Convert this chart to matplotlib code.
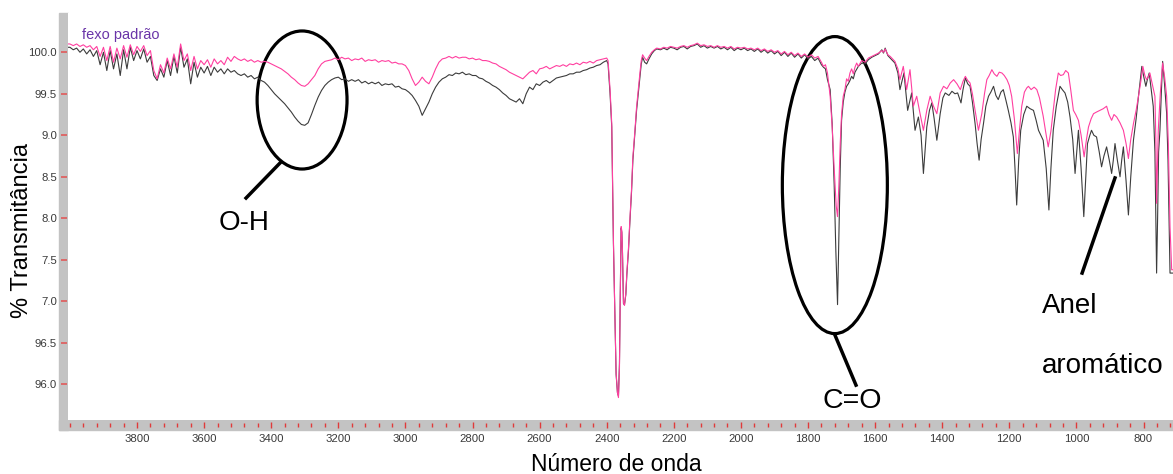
import numpy as np
import matplotlib
matplotlib.use("Agg")
import matplotlib.pyplot as plt
from matplotlib.patches import Ellipse, Rectangle

plt.rcParams['font.family'] = ['Liberation Sans', 'DejaVu Sans']

# espectro do padrao (rosa): (numero de onda, % transmitancia)
padrao = [
    (4005, 100.10), (4000, 100.10), (3990, 100.08), (3980, 100.10), (3970, 100.07), (3960, 100.09),
    (3950, 100.06), (3940, 100.08), (3930, 100.03), (3920, 100.07), (3910, 99.95), (3900, 100.06),
    (3890, 99.90), (3880, 100.07), (3870, 99.88), (3860, 100.05), (3850, 99.92), (3840, 100.08),
    (3830, 99.94), (3820, 100.09), (3810, 99.97), (3800, 100.07), (3790, 100.01), (3780, 100.08),
    (3770, 99.96), (3760, 100.02), (3750, 99.78), (3740, 99.68), (3730, 99.85), (3720, 99.75),
    (3710, 99.93), (3700, 99.80), (3690, 99.98), (3680, 99.82), (3670, 100.10), (3660, 99.90),
    (3650, 99.98), (3640, 99.78), (3630, 99.95), (3620, 99.80), (3610, 99.90), (3600, 99.85),
    (3590, 99.91), (3580, 99.82), (3570, 99.92), (3560, 99.86), (3550, 99.90), (3540, 99.85),
    (3530, 99.94), (3520, 99.89), (3510, 99.95), (3500, 99.92),
    (3490, 99.90), (3480, 99.92), (3470, 99.89), (3460, 99.91), (3450, 99.88), (3440, 99.90),
    (3430, 99.88), (3420, 99.89), (3410, 99.88), (3400, 99.86), (3390, 99.84), (3380, 99.82),
    (3370, 99.80), (3360, 99.77), (3350, 99.74), (3340, 99.70), (3330, 99.67), (3320, 99.63),
    (3310, 99.60), (3300, 99.59), (3290, 99.62), (3280, 99.67), (3270, 99.72), (3260, 99.80),
    (3250, 99.86), (3240, 99.89), (3230, 99.90), (3220, 99.91),
    (3210, 99.93), (3200, 99.91), (3190, 99.94), (3180, 99.92), (3170, 99.93), (3160, 99.90),
    (3150, 99.92), (3140, 99.91), (3130, 99.93), (3120, 99.89), (3110, 99.91), (3100, 99.90),
    (3090, 99.91), (3080, 99.88), (3070, 99.90), (3060, 99.89), (3050, 99.90), (3040, 99.87),
    (3030, 99.88), (3020, 99.86), (3010, 99.86), (3000, 99.84),
    (2990, 99.78), (2980, 99.68), (2970, 99.60), (2960, 99.64), (2950, 99.70), (2940, 99.65),
    (2930, 99.62), (2920, 99.70), (2910, 99.80),
    (2900, 99.88), (2890, 99.92), (2880, 99.93), (2870, 99.95), (2860, 99.93), (2850, 99.95),
    (2840, 99.93), (2830, 99.94), (2820, 99.94), (2810, 99.92), (2800, 99.93), (2790, 99.91),
    (2780, 99.92), (2770, 99.90), (2760, 99.90), (2750, 99.89), (2740, 99.87), (2730, 99.86),
    (2720, 99.83), (2710, 99.81), (2700, 99.79), (2690, 99.76), (2680, 99.74), (2670, 99.72),
    (2660, 99.70), (2650, 99.68), (2640, 99.72), (2630, 99.76), (2620, 99.78), (2610, 99.74),
    (2600, 99.80), (2590, 99.81), (2580, 99.83), (2570, 99.80), (2560, 99.82), (2550, 99.84),
    (2540, 99.83), (2530, 99.85), (2520, 99.83), (2510, 99.86), (2500, 99.85), (2490, 99.87),
    (2480, 99.85), (2470, 99.88), (2460, 99.87), (2450, 99.89), (2440, 99.87), (2430, 99.90),
    (2420, 99.91), (2410, 99.92),
    (2400, 99.93), (2396, 99.90), (2390, 99.55), (2385, 99.14), (2380, 97.74), (2376, 96.90),
    (2372, 96.14), (2368, 95.90), (2365, 95.84), (2362, 96.20), (2360, 96.93), (2357, 97.90),
    (2355, 97.85), (2353, 97.60), (2350, 96.98), (2347, 96.95), (2343, 97.10), (2340, 97.34),
    (2335, 97.65), (2331, 97.98), (2326, 98.35), (2322, 98.74), (2316, 99.05), (2311, 99.34),
    (2306, 99.55), (2301, 99.75), (2297, 99.90), (2293, 99.97), (2287, 99.93), (2281, 99.90),
    (2274, 99.95), (2266, 100.00), (2258, 100.03), (2251, 100.05),
    (2240, 100.04), (2230, 100.06), (2220, 100.05), (2210, 100.07), (2200, 100.06), (2190, 100.05),
    (2180, 100.07), (2170, 100.08), (2160, 100.06), (2150, 100.08), (2140, 100.09), (2130, 100.11),
    (2120, 100.08), (2110, 100.09), (2100, 100.07), (2090, 100.08), (2080, 100.06), (2070, 100.08),
    (2060, 100.06), (2050, 100.07), (2040, 100.05), (2030, 100.07), (2020, 100.04), (2010, 100.06),
    (2000, 100.05), (1990, 100.06), (1980, 100.04), (1970, 100.05), (1960, 100.03), (1950, 100.05),
    (1940, 100.02), (1930, 100.04), (1920, 100.01), (1910, 100.03), (1900, 100.00), (1890, 100.02),
    (1880, 99.98), (1870, 100.01), (1860, 99.97), (1850, 100.00), (1840, 99.96), (1830, 99.99),
    (1820, 99.95), (1810, 99.98), (1800, 99.94),
    (1790, 99.97), (1780, 99.93), (1770, 99.95), (1760, 99.88), (1754, 99.83), (1748, 99.85),
    (1742, 99.75), (1734, 99.47), (1728, 99.10), (1722, 98.60), (1716, 98.15), (1712, 98.02),
    (1708, 98.40), (1704, 98.90), (1700, 99.25), (1695, 99.47), (1690, 99.55), (1685, 99.68),
    (1680, 99.65), (1675, 99.75), (1670, 99.80), (1665, 99.74), (1660, 99.82), (1655, 99.87),
    (1650, 99.83), (1640, 99.90), (1630, 99.88), (1620, 99.93), (1610, 99.95), (1600, 99.97),
    (1590, 99.99), (1580, 100.02), (1575, 100.00), (1570, 100.04), (1562, 99.97), (1555, 99.95),
    (1541, 99.89), (1532, 99.80), (1526, 99.67), (1516, 99.83), (1506, 99.55), (1496, 99.79),
    (1486, 99.35), (1476, 99.47), (1466, 99.26), (1456, 99.06), (1446, 99.30), (1436, 99.47),
    (1426, 99.35), (1416, 99.26), (1406, 99.51), (1396, 99.59), (1386, 99.56), (1376, 99.63),
    (1366, 99.67), (1356, 99.62), (1346, 99.55), (1338, 99.65), (1331, 99.71), (1324, 99.66),
    (1317, 99.63), (1310, 99.50), (1302, 99.30), (1292, 99.06), (1282, 99.26), (1274, 99.50),
    (1267, 99.67), (1260, 99.72), (1252, 99.79), (1245, 99.74), (1237, 99.71), (1230, 99.76),
    (1222, 99.75), (1215, 99.72), (1207, 99.67), (1200, 99.60), (1193, 99.47), (1185, 99.20),
    (1176, 98.78), (1170, 99.05), (1163, 99.35), (1155, 99.52), (1148, 99.57), (1143, 99.59),
    (1135, 99.55), (1126, 99.58), (1118, 99.55), (1110, 99.45), (1099, 99.23), (1092, 99.05),
    (1084, 98.86), (1076, 99.05), (1069, 99.30), (1062, 99.55), (1054, 99.75), (1047, 99.72),
    (1039, 99.73), (1032, 99.78), (1024, 99.75), (1017, 99.55), (1009, 99.30), (1002, 99.25),
    (994, 99.18), (986, 99.00), (977, 98.74), (970, 98.95), (964, 99.10), (956, 99.20),
    (949, 99.26), (940, 99.28), (930, 99.30), (920, 99.32), (910, 99.35), (903, 99.25),
    (895, 99.18), (888, 99.25), (880, 99.22), (870, 99.15), (860, 99.06), (852, 98.90),
    (845, 98.72), (838, 98.95), (830, 99.14), (822, 99.30), (815, 99.47), (808, 99.65),
    (802, 99.83), (796, 99.72), (791, 99.67), (786, 99.70), (781, 99.75), (774, 99.62),
    (766, 99.47), (763, 98.90), (761, 98.18), (758, 98.70), (756, 99.06), (750, 99.50),
    (743, 99.87), (737, 99.70), (731, 99.47), (726, 98.90), (721, 97.90), (716, 97.38),
    (712, 97.38),
]

# espectro da amostra (cinza escuro)
amostra = [
    (4005, 100.06), (4000, 100.06), (3990, 100.03), (3980, 100.05), (3970, 100.00), (3960, 100.04),
    (3950, 99.98), (3940, 100.03), (3930, 99.95), (3920, 100.02), (3910, 99.85), (3900, 100.00),
    (3890, 99.78), (3880, 100.02), (3870, 99.80), (3860, 99.98), (3850, 99.72), (3840, 100.03),
    (3830, 99.80), (3820, 100.06), (3810, 99.90), (3800, 100.02), (3790, 99.92), (3780, 100.04),
    (3770, 99.88), (3760, 99.95), (3750, 99.72), (3740, 99.66), (3730, 99.80), (3720, 99.70),
    (3710, 99.90), (3700, 99.72), (3690, 99.95), (3680, 99.75), (3670, 100.06), (3660, 99.82),
    (3650, 99.92), (3640, 99.62), (3630, 99.88), (3620, 99.70), (3610, 99.82), (3600, 99.75),
    (3590, 99.83), (3580, 99.72), (3570, 99.82), (3560, 99.76), (3550, 99.80), (3540, 99.74),
    (3530, 99.80), (3520, 99.76), (3510, 99.78), (3500, 99.74),
    (3490, 99.72), (3480, 99.74), (3470, 99.70), (3460, 99.72), (3450, 99.68), (3440, 99.70),
    (3430, 99.66), (3420, 99.64), (3410, 99.60), (3400, 99.55), (3390, 99.50), (3380, 99.46),
    (3370, 99.42), (3360, 99.38), (3350, 99.33), (3340, 99.28), (3330, 99.22), (3320, 99.17),
    (3310, 99.13), (3300, 99.12), (3290, 99.15), (3280, 99.25), (3270, 99.36), (3260, 99.46),
    (3250, 99.54), (3240, 99.60), (3230, 99.64), (3220, 99.67),
    (3210, 99.69), (3200, 99.70), (3190, 99.67), (3180, 99.68), (3170, 99.65), (3160, 99.67),
    (3150, 99.65), (3140, 99.67), (3130, 99.63), (3120, 99.65), (3110, 99.62), (3100, 99.64),
    (3090, 99.62), (3080, 99.64), (3070, 99.60), (3060, 99.62), (3050, 99.61), (3040, 99.62),
    (3030, 99.58), (3020, 99.59), (3010, 99.56), (3000, 99.55),
    (2990, 99.52), (2980, 99.48), (2970, 99.42), (2960, 99.35), (2950, 99.24), (2940, 99.32),
    (2930, 99.40), (2920, 99.50), (2910, 99.58),
    (2900, 99.64), (2890, 99.68), (2880, 99.70), (2870, 99.73), (2860, 99.72), (2850, 99.75),
    (2840, 99.74), (2830, 99.76), (2820, 99.73), (2810, 99.74), (2800, 99.72), (2790, 99.72),
    (2780, 99.69), (2770, 99.68), (2760, 99.65), (2750, 99.63), (2740, 99.60), (2730, 99.58),
    (2720, 99.55), (2710, 99.51), (2700, 99.48), (2690, 99.44), (2680, 99.42), (2670, 99.40),
    (2660, 99.44), (2650, 99.38), (2640, 99.50), (2630, 99.58), (2620, 99.55), (2610, 99.62),
    (2600, 99.60), (2590, 99.64), (2580, 99.66), (2570, 99.63), (2560, 99.66), (2550, 99.69),
    (2540, 99.70), (2530, 99.71), (2520, 99.72), (2510, 99.74), (2500, 99.74), (2490, 99.76),
    (2480, 99.76), (2470, 99.78), (2460, 99.79), (2450, 99.81), (2440, 99.82), (2430, 99.84),
    (2420, 99.85), (2410, 99.88),
    (2400, 99.90), (2396, 99.86), (2390, 99.50), (2385, 99.10), (2380, 97.70), (2376, 96.88),
    (2372, 96.12), (2368, 95.90), (2365, 95.86), (2362, 96.25), (2360, 96.95), (2357, 97.88),
    (2355, 97.83), (2353, 97.58), (2350, 96.97), (2347, 96.96), (2343, 97.08), (2340, 97.32),
    (2335, 97.62), (2331, 97.95), (2326, 98.32), (2322, 98.70), (2316, 99.02), (2311, 99.30),
    (2306, 99.50), (2301, 99.70), (2297, 99.86), (2293, 99.94), (2287, 99.88), (2281, 99.86),
    (2274, 99.92), (2266, 99.98), (2258, 100.02), (2251, 100.04),
    (2240, 100.03), (2230, 100.05), (2220, 100.03), (2210, 100.06), (2200, 100.05), (2190, 100.03),
    (2180, 100.06), (2170, 100.07), (2160, 100.04), (2150, 100.07), (2140, 100.08), (2130, 100.10),
    (2120, 100.06), (2110, 100.08), (2100, 100.05), (2090, 100.07), (2080, 100.05), (2070, 100.07),
    (2060, 100.04), (2050, 100.06), (2040, 100.03), (2030, 100.06), (2020, 100.02), (2010, 100.05),
    (2000, 100.03), (1990, 100.05), (1980, 100.02), (1970, 100.04), (1960, 100.01), (1950, 100.04),
    (1940, 100.00), (1930, 100.03), (1920, 99.99), (1910, 100.02), (1900, 99.98), (1890, 100.01),
    (1880, 99.96), (1870, 100.00), (1860, 99.95), (1850, 99.99), (1840, 99.94), (1830, 99.98),
    (1820, 99.93), (1810, 99.97), (1800, 99.92),
    (1790, 99.95), (1780, 99.90), (1770, 99.93), (1760, 99.85), (1754, 99.82), (1748, 99.80),
    (1742, 99.67), (1734, 99.55), (1728, 99.14), (1722, 98.40), (1717, 97.60), (1712, 96.96),
    (1708, 97.80), (1704, 98.60), (1700, 99.18), (1695, 99.40), (1690, 99.52), (1685, 99.59),
    (1680, 99.62), (1675, 99.66), (1670, 99.71), (1665, 99.68), (1660, 99.76), (1650, 99.83),
    (1640, 99.87), (1630, 99.86), (1620, 99.91), (1610, 99.94), (1600, 99.96), (1590, 99.98),
    (1580, 100.03), (1575, 99.99), (1570, 100.05), (1562, 99.96), (1555, 99.93),
    (1541, 99.87), (1532, 99.75), (1526, 99.55), (1514, 99.75), (1503, 99.30), (1491, 99.51),
    (1481, 99.06), (1471, 99.22), (1463, 99.00), (1456, 98.54), (1446, 99.10), (1438, 99.30),
    (1431, 99.39), (1424, 99.20), (1416, 98.94), (1406, 99.26), (1398, 99.45), (1391, 99.51),
    (1380, 99.48), (1371, 99.53), (1362, 99.50), (1354, 99.51), (1344, 99.39), (1338, 99.55),
    (1331, 99.69), (1324, 99.62), (1317, 99.59), (1310, 99.40), (1302, 99.14), (1296, 98.90),
    (1290, 98.70), (1284, 98.95), (1277, 99.14), (1270, 99.35), (1262, 99.47), (1255, 99.52),
    (1247, 99.59), (1240, 99.48), (1233, 99.43), (1225, 99.52), (1218, 99.55), (1210, 99.42),
    (1203, 99.30), (1195, 99.15), (1188, 98.98), (1183, 98.60), (1178, 98.16), (1172, 98.70),
    (1166, 99.06), (1157, 99.25), (1148, 99.35), (1138, 99.32), (1128, 99.30), (1120, 99.18),
    (1113, 99.06), (1106, 99.00), (1099, 98.94), (1090, 98.60), (1082, 98.10), (1076, 98.60),
    (1069, 99.06), (1060, 99.35), (1049, 99.59), (1042, 99.55), (1034, 99.51), (1026, 99.40),
    (1019, 99.22), (1011, 98.95), (1004, 98.54), (999, 98.80), (994, 99.06), (986, 98.60),
    (978, 98.02), (972, 98.50), (967, 98.90), (960, 99.00), (955, 99.06), (948, 99.00),
    (940, 98.98), (932, 98.80), (925, 98.62), (918, 98.75), (910, 98.86), (902, 98.70),
    (895, 98.54), (890, 98.70), (885, 98.90), (878, 98.70), (870, 98.50), (865, 98.70),
    (860, 98.86), (852, 98.45), (845, 98.04), (838, 98.50), (830, 98.94), (822, 99.20),
    (815, 99.47), (810, 99.65), (805, 99.83), (799, 99.70), (793, 99.59), (788, 99.68),
    (783, 99.75), (777, 99.55), (771, 99.35), (766, 98.80), (761, 97.34), (758, 98.00),
    (755, 98.80), (751, 99.06), (747, 99.50), (743, 99.89), (737, 99.60), (731, 99.26),
    (727, 98.70), (723, 97.80), (721, 97.34), (712, 97.34),
]

y_ticks = [100.0, 99.5, 99.0, 98.5, 98.0, 97.5, 97.0, 96.5, 96.0]
y_labels = ['100.0', '99.5', '9.0', '8.5', '8.0', '7.5', '7.0', '96.5', '96.0']
x_ticks = list(range(800, 3801, 200))

pad_wn, pad_t = np.array(padrao).T
amo_wn, amo_t = np.array(amostra).T

W, H = 1173, 474
fig = plt.figure(figsize=(W / 100, H / 100), dpi=100)
ax = fig.add_axes([68 / W, 1 - 420 / H, 1 - 68 / W, (420 - 13) / H])

ax.plot(amo_wn, amo_t, color='#3c3c3c', lw=0.8)
ax.plot(pad_wn, pad_t, color='#ff3fa0', lw=0.8)

ax.set_xlim(4005.7, 712.1)
ax.set_ylim(95.57, 100.473)

# barras cinzentas dos eixos
fig.add_artist(Rectangle((59 / W, 1 - 430 / H), 9 / W, 417 / H, transform=fig.transFigure,
                         color='#c3c3c3', zorder=-1))
fig.add_artist(Rectangle((59 / W, 1 - 430 / H), 1 - 59 / W, 10 / H, transform=fig.transFigure,
                         color='#c3c3c3', zorder=-1))

for s in ax.spines.values():
    s.set_visible(False)
ax.spines['left'].set_position(('outward', 3.24))
ax.spines['bottom'].set_position(('outward', 3.6))

ax.set_yticks(y_ticks)
ax.set_yticklabels(y_labels)
ax.set_xticks(x_ticks)
ax.set_xticks(np.arange(720, 4001, 40), minor=True)
ax.tick_params(axis='y', direction='inout', length=5, width=1.2, color='#e05a5a',
               labelsize=8.2, labelcolor='#3a3a3a', pad=2.2)
ax.tick_params(axis='x', which='major', direction='inout', length=5, width=1.0, color='#e03a3a',
               labelsize=8.2, labelcolor='#3a3a3a', pad=4)
ax.tick_params(axis='x', which='minor', direction='inout', length=2.5, width=1.0, color='#e03a3a')

fig.text(82 / W, 1 - 39 / H, 'fexo padrão', color='#6a35a8', fontsize=10.5, va='baseline')
fig.text(22 / W, 1 - 230 / H, '% Transmitância', rotation=90, fontsize=17,
         ha='center', va='center')
fig.text(616 / W, 1 - 471 / H, 'Número de onda', fontsize=16.5, ha='center', va='baseline')

# anotacoes
ax.add_patch(Ellipse((3308, 99.425), 268, 1.663, fill=False, lw=2.3, ec='black'))
ax.plot([3374, 3475], [98.665, 98.244], color='black', lw=2.5)
ax.text(3558, 97.86, 'O-H', fontsize=20, ha='left', va='baseline')

ax.add_patch(Ellipse((1720, 98.40), 313, 3.578, fill=False, lw=2.3, ec='black'))
ax.plot([1720, 1657], [96.596, 95.99], color='black', lw=2.5)
ax.text(1758, 95.714, 'C=O', fontsize=20.5, ha='left', va='baseline')

ax.plot([885, 983], [98.486, 97.34], color='black', lw=2.5)
ax.text(1102, 96.86, 'Anel', fontsize=20, ha='left', va='baseline')
ax.text(1102, 96.137, 'aromático', fontsize=20, ha='left', va='baseline')

fig.savefig('out.png', dpi=100)
